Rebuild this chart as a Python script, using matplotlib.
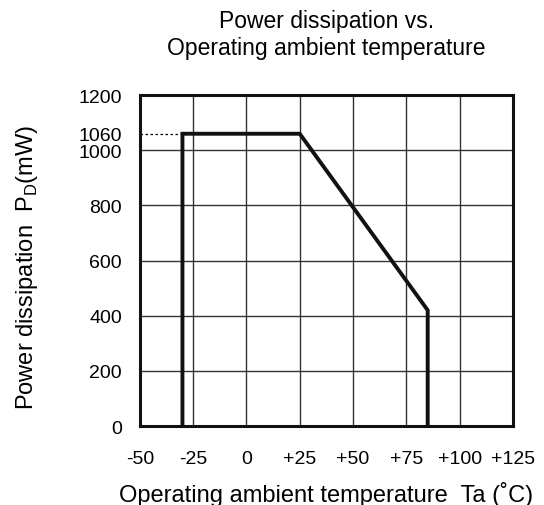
import numpy as np
import matplotlib.pyplot as plt

plt.rcParams['font.family'] = ['Liberation Sans', 'DejaVu Sans']

# ---------------- data ----------------
temp = [-30, -30, 25, 85, 85]          # Ta (C)
power = [0, 1060, 1060, 420, 0]        # PD (mW)
x_ticks = [-50, -25, 0, 25, 50, 75, 100, 125]
x_labels = ['-50', '-25', '0', '+25', '+50', '+75', '+100', '+125']
y_ticks = [0, 200, 400, 600, 800, 1000, 1060, 1200]
y_labels = ['0', '200', '400', '600', '800', '1000', '1060', '1200']

# ---------------- figure ----------------
fig = plt.figure(figsize=(5.44, 5.06), dpi=100)
ax = fig.add_axes([0.257, 0.156, 0.686, 0.654])
ax.set_xlim(-50, 125)
ax.set_ylim(0, 1200)

# grid
for x in x_ticks[1:-1]:
    ax.axvline(x, color='#333333', lw=1.0, zorder=1)
for y in [200, 400, 600, 800, 1000]:
    ax.axhline(y, color='#333333', lw=1.0, zorder=1)

# dotted guide for 1060
ax.plot([-50, temp[1]], [power[1], power[1]], color='k', lw=0.9,
        linestyle=(0, (2, 2)), zorder=2)

# derating curve
ax.plot(temp, power, color='#111111', lw=2.8, zorder=3,
        solid_joinstyle='miter', clip_on=False)

for s in ax.spines.values():
    s.set_linewidth(2.2)
    s.set_color('#111111')

ax.set_xticks(x_ticks)
ax.set_xticklabels(x_labels, fontsize=14)
ax.set_yticks(y_ticks)
ax.set_yticklabels(y_labels, fontsize=14)
ax.tick_params(axis='x', length=0, pad=17)
ax.tick_params(axis='y', length=0, pad=13)

# ------ labels and title --------
fig.text(0.599, 0.022, 'Operating ambient temperature  Ta (˚C)',
         ha='center', va='center', fontsize=17)
fig.text(0.050, 0.472, 'Power dissipation  P$_\\mathregular{D}$(mW)',
         ha='center', va='center', rotation=90, fontsize=17)

fig.text(0.601, 0.957, 'Power dissipation vs.', ha='center', va='center', fontsize=16.5)
fig.text(0.599, 0.905, 'Operating ambient temperature', ha='center', va='center', fontsize=16.5)

plt.savefig('out.png', dpi=100)
